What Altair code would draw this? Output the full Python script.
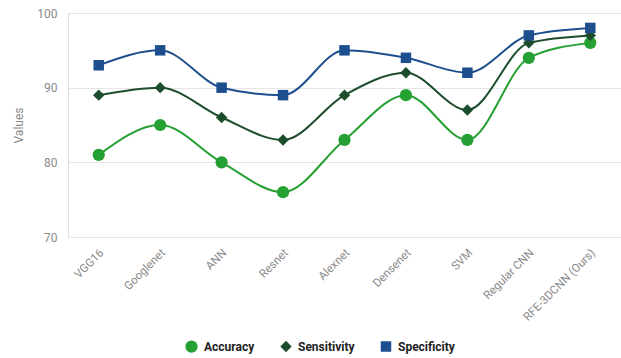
import altair as alt
import pandas as pd

models = ["VGG16", "Googlenet", "ANN", "Resnet", "Alexnet", "Densenet",
          "SVM", "Regular CNN", "RFE-3DCNN (Ours)"]
accuracy = [81, 85, 80, 76, 83, 89, 83, 94, 96]
sensitivity = [89, 90, 86, 83, 89, 92, 87, 96, 97]
specificity = [93, 95, 90, 89, 95, 94, 92, 97, 98]

series = ["Accuracy", "Sensitivity", "Specificity"]
colors = ["#25a032", "#1c4d2c", "#1d4f8e"]
shapes = ["circle", "diamond", "square"]
sizes = [150, 110, 190]

rows = []
for name, vals in zip(series, [accuracy, sensitivity, specificity]):
    for m, v in zip(models, vals):
        rows.append({"Model": m, "Metric": name, "Value": v})
df = pd.DataFrame(rows)

x = alt.X("Model:N", sort=models, title=None,
          scale=alt.Scale(paddingInner=0, paddingOuter=0.5),
          axis=alt.Axis(labelAngle=-45, labelAlign="right", labelBaseline="middle",
                        labelColor="#8a8a8a", labelFontSize=11.5, labelPadding=14,
                        labelOffset=3, ticks=False, domain=False, grid=False))
y = alt.Y("Value:Q", title="Values",
          scale=alt.Scale(domain=[70, 100]),
          axis=alt.Axis(values=[70, 80, 90, 100], labelColor="#8a8a8a",
                        labelFontSize=12, labelPadding=11, ticks=False,
                        domain=False, gridColor="#e6e6e6", titleColor="#8a8a8a",
                        titleFontSize=12, titleFontWeight="normal",
                        titlePadding=11))
color_scale = alt.Scale(domain=series, range=colors)
color = alt.Color("Metric:N", sort=series, scale=color_scale,
                  legend=alt.Legend(title=None, orient="none", direction="horizontal",
                                    legendX=117, legendY=327,
                                    labelFontSize=12, labelFontWeight="bold",
                                    labelColor="#222222", symbolSize=150,
                                    symbolStrokeWidth=0, columnPadding=25,
                                    labelOffset=6))
shape = alt.Shape("Metric:N", sort=series,
                  scale=alt.Scale(domain=series, range=shapes))
size = alt.Size("Metric:N", sort=series,
                scale=alt.Scale(domain=series, range=sizes), legend=None)

lines = alt.Chart(df).mark_line(interpolate="monotone", strokeWidth=2).encode(
    x=x, y=y, color=color, detail="Metric:N")

points = alt.Chart(df).mark_point(filled=True, opacity=1).encode(
    x=x, y=y, color=color, shape=shape, size=size)

chart = alt.layer(lines, points).properties(
    width=553, height=224,
    autosize=alt.AutoSizeParams(type="none"),
    padding={"left": 68, "top": 13, "right": 0, "bottom": 121},
).configure_view(stroke=None).configure(font="Roboto")

chart.save("out.html", embed_options={"renderer": "svg", "actions": False})
